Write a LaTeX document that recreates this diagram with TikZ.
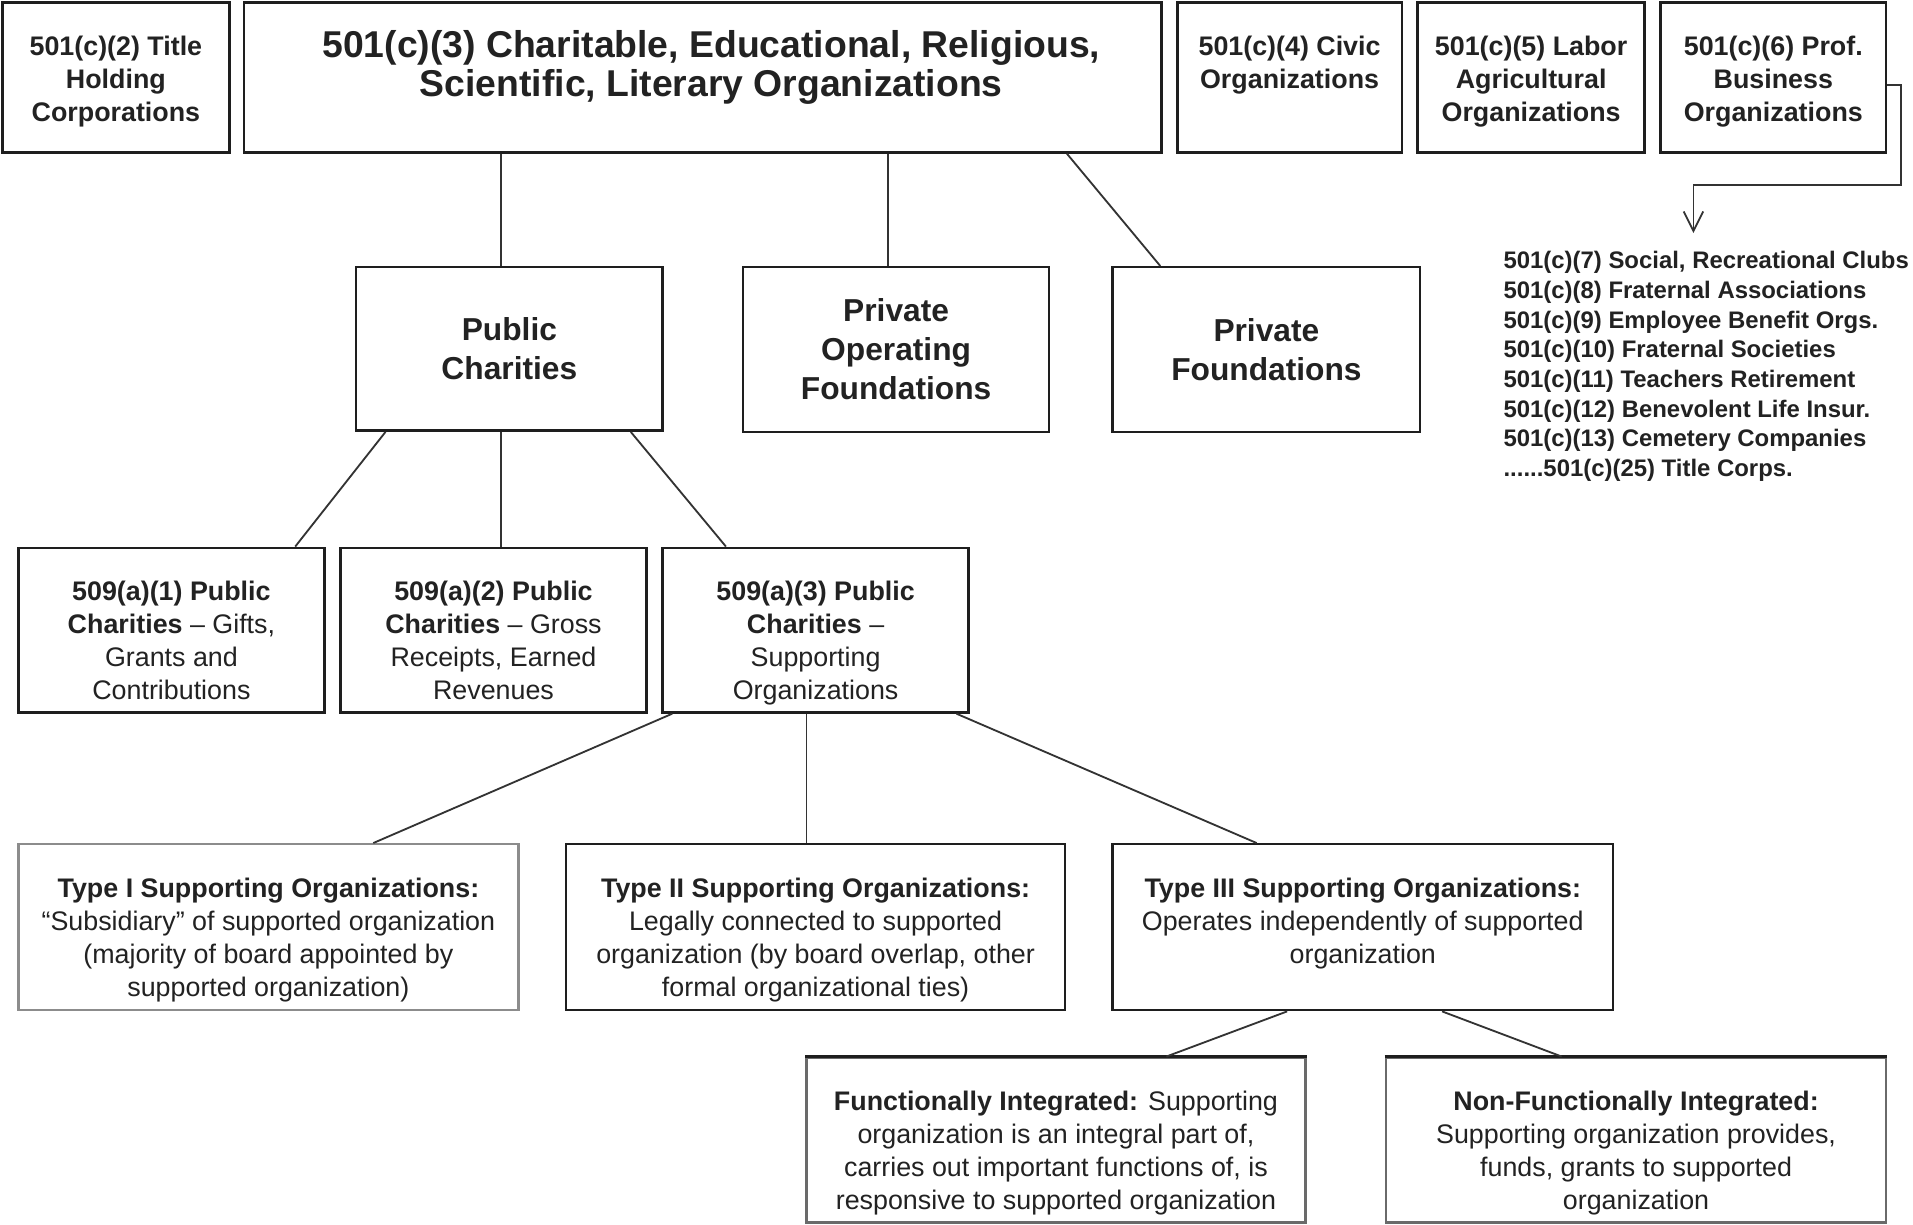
\documentclass[tikz,border=0pt]{standalone}
\usepackage{fontspec}
\setmainfont{Liberation Sans}
\usetikzlibrary{arrows.meta}
\definecolor{ink}{HTML}{222222}
\definecolor{edgecol}{HTML}{1E1E1E}
\definecolor{greyedge}{HTML}{8C8C8C}
\definecolor{midedge}{HTML}{6A6A6A}
\definecolor{conncol}{HTML}{333333}
\newcommand{\fl}[1]{\rule{0pt}{#1}}
\begin{document}
\begin{tikzpicture}[x=0.5pt,y=-0.5pt,
  box/.style={draw=edgecol,line width=1pt,inner sep=0pt,fill=white},
  greybox/.style={box,draw=greyedge},
  midbox/.style={box,draw=midedge},
  txt/.style={inner sep=0pt,align=center,text=ink,font=\fontsize{11}{13.5}\selectfont},
  bigtxt/.style={inner sep=0pt,align=center,text=ink,font=\fontsize{13}{16}\selectfont\bfseries},
  conn/.style={draw=conncol,line width=0.75pt}]
\fill[white] (0,0) rectangle (1568,1004);
\useasboundingbox (0,0) rectangle (1568,1004);

% top row
\node[box,minimum width=93pt,minimum height=61.5pt] (A) at (95,63.5) {};
\node[box,minimum width=376pt,minimum height=61.5pt] (B) at (576,63.5) {};
\node[box,minimum width=92pt,minimum height=61.5pt] (C) at (1057,63.5) {};
\node[box,minimum width=93pt,minimum height=61.5pt] (D) at (1255,63.5) {};
\node[box,minimum width=92.5pt,minimum height=61.5pt] (E) at (1453.5,63.5) {};
\node[txt,font=\fontsize{11}{13.5}\selectfont\bfseries,anchor=north] (At) at ([yshift=-13.5pt]A.north) {\fl{8.5pt}501(c)(2) Title\\Holding\\Corporations};
\node[txt,font=\fontsize{15.3}{16}\selectfont\bfseries,anchor=north] (Bt) at ([xshift=3.5pt,yshift=-11pt]B.north) {\fl{12pt}501(c)(3) Charitable, Educational, Religious,\\Scientific, Literary Organizations};
\node[txt,font=\fontsize{11}{13.5}\selectfont\bfseries,anchor=north] (Ct) at ([yshift=-13.5pt]C.north) {\fl{8.5pt}501(c)(4) Civic\\Organizations};
\node[txt,font=\fontsize{11}{13.5}\selectfont\bfseries,anchor=north] (Dt) at ([yshift=-13.5pt]D.north) {\fl{8.5pt}501(c)(5) Labor\\Agricultural\\Organizations};
\node[txt,font=\fontsize{11}{13.5}\selectfont\bfseries,anchor=north] (Et) at ([yshift=-13.5pt]E.north) {\fl{8.5pt}501(c)(6) Prof.\\Business\\Organizations};

% list
\node[inner xsep=0pt,inner ysep=6.5pt,anchor=north west,align=left,text=ink,font=\fontsize{9.8}{12.15}\selectfont\bfseries] (L) at (1232,191) {\fl{8pt}501(c)(7) Social, Recreational Clubs\\501(c)(8) Fraternal Associations\\501(c)(9) Employee Benefit Orgs.\\501(c)(10) Fraternal Societies\\501(c)(11) Teachers Retirement\\501(c)(12) Benevolent Life Insur.\\501(c)(13) Cemetery Companies\\......501(c)(25) Title Corps.};
\coordinate (r1) at (1558,151.6);
\coordinate (r2) at (1388,151.6);
\draw[conn,-{Straight Barb[length=8pt,width=8pt,line width=0.75pt]}] ([yshift=-3.1pt]E.east) -| (r1) -- (r2) -- (r2 |- L.north);

% second row
\node[box,bigtxt,minimum width=125.5pt,minimum height=67pt] (PC) at (417.5,286) {Public\\Charities};
\node[box,bigtxt,minimum width=125.5pt,minimum height=67.5pt] (PO) at (734.5,286.5) {Private\\Operating\\Foundations};
\node[box,bigtxt,minimum width=126pt,minimum height=67.5pt] (PF) at (1038,286.5) {Private\\Foundations};

\draw[conn] ([xshift=-3.5pt]PC.north |- B.south) -- ([xshift=-3.5pt]PC.north);
\draw[conn] ([xshift=-3.25pt]PO.north |- B.south) -- ([xshift=-3.25pt]PO.north);
\draw[conn] ([xshift=149.25pt]B.south) -- ([xshift=-43.5pt]PF.north);

% third row
\node[box,minimum width=125.5pt,minimum height=67.5pt] (S1) at (140.5,516.5) {};
\node[box,minimum width=125.5pt,minimum height=67.5pt] (S2) at (404.5,516.5) {};
\node[box,minimum width=125.5pt,minimum height=67.5pt] (S3) at (668.5,516.5) {};
\node[txt,anchor=north] (S1t) at ([yshift=-13.5pt]S1.north) {\fl{8.5pt}\textbf{509(a)(1) Public}\\\textbf{Charities} -- Gifts,\\Grants and\\Contributions};
\node[txt,anchor=north] (S2t) at ([yshift=-13.5pt]S2.north) {\fl{8.5pt}\textbf{509(a)(2) Public}\\\textbf{Charities} -- Gross\\Receipts, Earned\\Revenues};
\node[txt,anchor=north] (S3t) at ([yshift=-13.5pt]S3.north) {\fl{8.5pt}\textbf{509(a)(3) Public}\\\textbf{Charities} --\\Supporting\\Organizations};

\draw[conn] ([xshift=-50.75pt]PC.south) -- ([xshift=50.75pt]S1.north);
\draw[conn] ([xshift=-3.5pt]PC.south) -- ([xshift=3pt]S2.north);
\draw[conn] ([xshift=49.75pt]PC.south) -- ([xshift=-36.75pt]S3.north);

% fourth row
\node[greybox,minimum width=205pt,minimum height=68pt] (T1) at (220,760) {};
\node[box,minimum width=204.5pt,minimum height=68pt] (T2) at (668.5,760) {};
\node[box,minimum width=205pt,minimum height=68pt] (T3) at (1117,760) {};
\node[txt,anchor=north] (T1t) at ([yshift=-13.5pt]T1.north) {\fl{8.5pt}\textbf{Type I Supporting Organizations:}\\“Subsidiary” of supported organization\\(majority of board appointed by\\supported organization)};
\node[txt,anchor=north] (T2t) at ([yshift=-13.5pt]T2.north) {\fl{8.5pt}\textbf{Type II Supporting Organizations:}\\Legally connected to supported\\organization (by board overlap, other\\formal organizational ties)};
\node[txt,anchor=north] (T3t) at ([yshift=-13.5pt]T3.north) {\fl{8.5pt}\textbf{Type III Supporting Organizations:}\\Operates independently of supported\\organization};

\draw[conn] ([xshift=-58.75pt]S3.south) -- ([xshift=43pt]T1.north);
\draw[conn] ([xshift=-3.75pt]S3.south) -- ([xshift=-3.75pt]T2.north);
\draw[conn] ([xshift=57.75pt]S3.south) -- ([xshift=-43.5pt]T3.north);

% fifth row
\node[midbox,minimum width=204.5pt,minimum height=67.5pt] (F) at (865.5,934.5) {};
\node[midbox,minimum width=205pt,minimum height=67.5pt] (NF) at (1341,934.5) {};
\draw[edgecol,line width=1pt] (F.north west) -- (F.north east);
\draw[edgecol,line width=1pt] (NF.north west) -- (NF.north east);
\node[txt,anchor=north] (Ft) at ([yshift=-13.5pt]F.north) {\fl{8.5pt}\textbf{Functionally Integrated:} Supporting\\organization is an integral part of,\\carries out important functions of, is\\responsive to supported organization};
\node[txt,anchor=north] (NFt) at ([yshift=-13.5pt]NF.north) {\fl{8.5pt}\textbf{Non-Functionally Integrated:}\\Supporting organization provides,\\funds, grants to supported\\organization};

\draw[conn] ([xshift=-31pt]T3.south) -- ([xshift=45.25pt]F.north);
\draw[conn] ([xshift=32.5pt]T3.south) -- ([xshift=-30.5pt]NF.north);
\end{tikzpicture}
\end{document}
